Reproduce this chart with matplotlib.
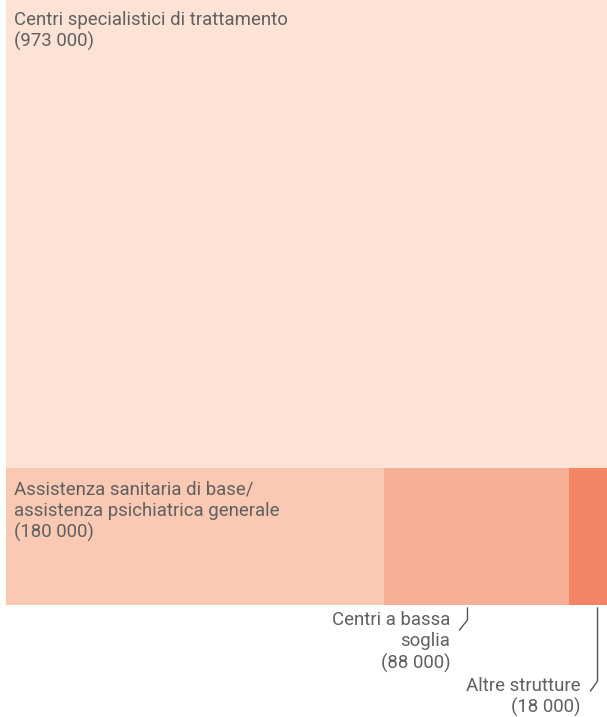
import matplotlib.pyplot as plt
from matplotlib.patches import Rectangle

# Values (people)
labels = ["Centri specialistici di trattamento",
          "Assistenza sanitaria di base/\nassistenza psichiatrica generale",
          "Centri a bassa\nsoglia",
          "Altre strutture"]
values = [973000, 180000, 88000, 18000]
colors = ["#fce3d6", "#f9c9b3", "#f7b096", "#f48466"]

plt.rcParams['font.family'] = ['Roboto', 'DejaVu Sans']
txt_color = "#606060"

W, H = 607, 717
fig = plt.figure(figsize=(W / 100, H / 100), dpi=100)
ax = fig.add_axes([0, 0, 1, 1])
ax.set_xlim(0, W)
ax.set_ylim(H, 0)
ax.axis("off")

# treemap area (pixels)
x0, x1 = 6, 607
y0, y1 = 0, 605
total = sum(values)

# top block: biggest value, full width
top_h = (y1 - y0) * values[0] / total
ax.add_patch(Rectangle((x0, y0), x1 - x0, top_h, color=colors[0], lw=0))

# bottom row: the rest split by width
rest = sum(values[1:])
rects = []
cx = x0
for v, c in zip(values[1:], colors[1:]):
    w = (x1 - x0) * v / rest
    ax.add_patch(Rectangle((cx, y0 + top_h), w, y1 - y0 - top_h, color=c, lw=0))
    rects.append((cx, w))
    cx += w

def fmt(v):
    return "(" + f"{v:,}".replace(",", " ") + ")"

fs = 13.4
ls = 1.22
# labels inside
ax.text(x0 + 8, y0 + 11, labels[0] + "\n" + fmt(values[0]), fontsize=fs,
        color=txt_color, va="top", ha="left", linespacing=ls)
ax.text(x0 + 8, y0 + top_h + 13, labels[1] + "\n" + fmt(values[1]), fontsize=fs,
        color=txt_color, va="top", ha="left", linespacing=ls)

# labels below with leader lines
lc = "#555555"
bx, bw = rects[1]
lx = bx + bw * 0.45
ax.plot([lx, lx, lx - 8], [y1 + 3, y1 + 15, y1 + 25], color=lc, lw=1)
ax.text(lx - 17, y1 + 6, labels[2] + "\n" + fmt(values[2]), fontsize=fs,
        color=txt_color, va="top", ha="right", linespacing=ls)

cx3, cw = rects[2]
lx = cx3 + cw * 0.75
ax.plot([lx, lx, lx - 7], [y1 + 3, y1 + 76, y1 + 86], color=lc, lw=1)
ax.text(lx - 17, y1 + 72, labels[3] + "\n" + fmt(values[3]), fontsize=fs,
        color=txt_color, va="top", ha="right", linespacing=ls)

fig.savefig("out.png", dpi=100)
